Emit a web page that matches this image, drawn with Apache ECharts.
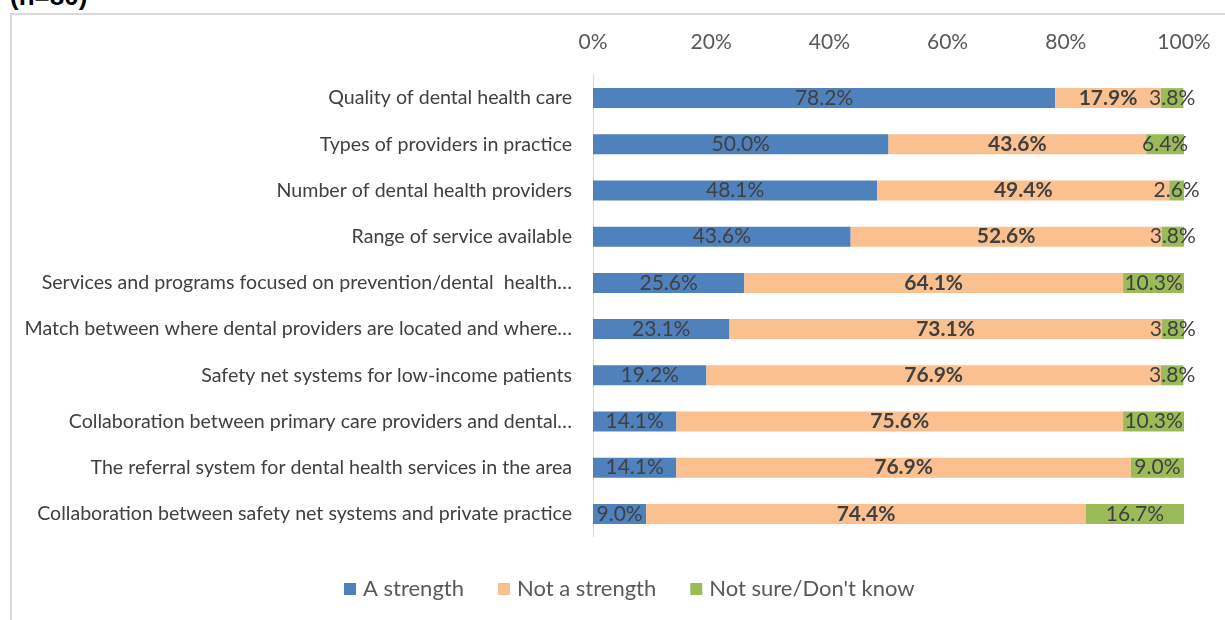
<!DOCTYPE html>
<html>
<head>
<meta charset="utf-8">
<script src="https://cdn.jsdelivr.net/npm/echarts@6/dist/echarts.min.js"></script>
<style>
  html, body { margin: 0; padding: 0; background: #fff; }
  #frame { position: absolute; left: 10px; top: 13px; width: 1300px; height: 700px;
           border-left: 2px solid #d9d9d9; border-top: 2px solid #d9d9d9; }
  #note { position: absolute; left: 10px; top: -19px; line-height: 26px;
          font: bold 26px "Liberation Sans", Arial, sans-serif; color: #000; white-space: nowrap; }
  #chart { position: absolute; left: 0; top: 0; width: 1225px; height: 620px; }
</style>
</head>
<body>
<div id="frame"></div>
<div id="note">(n=80)</div>
<div id="chart"></div>
<script>
const categories = [
  'Quality of dental health care',
  'Types of providers in practice',
  'Number of dental health providers',
  'Range of service available',
  'Services and programs focused on prevention/dental  health…',
  'Match between where dental providers are located and where…',
  'Safety net systems for low-income patients',
  'Collaboration between primary care providers and dental…',
  'The referral system for dental health services in the area',
  'Collaboration between safety net systems and private practice'
];
const strength    = [78.2, 50.0, 48.1, 43.6, 25.6, 23.1, 19.2, 14.1, 14.1, 9.0];
const notStrength = [17.9, 43.6, 49.4, 52.6, 64.1, 73.1, 76.9, 75.6, 76.9, 74.4];
const notSure     = [3.8, 6.4, 2.6, 3.8, 10.3, 3.8, 3.8, 10.3, 9.0, 16.7];
const tickLabels  = ['0%', '20%', '40%', '60%', '80%', '100%'];

const FONT = 'Lato, "Open Sans", sans-serif';
const labelFmt = p => p.value.toFixed(1) + '%';

function seriesOf(name, data, color, bold) {
  return {
    name, type: 'bar', stack: 'total', data, barWidth: 20,
    itemStyle: { color },
    label: {
      show: true, position: 'inside', formatter: labelFmt,
      color: '#404040', fontFamily: FONT, fontSize: 21,
      fontWeight: bold ? 'bold' : 'normal'
    }
  };
}

const chart = echarts.init(document.getElementById('chart'), null, { renderer: 'canvas' });
chart.setOption({
  animation: false,
  grid: { left: 593, right: 41, top: 75, bottom: 83, containLabel: false },
  xAxis: {
    type: 'value', position: 'top', min: 0, max: 100, interval: 20,
    axisLine: { show: false }, axisTick: { show: false }, splitLine: { show: false },
    axisLabel: {
      color: '#595959', fontFamily: FONT, fontSize: 21, margin: 22,
      formatter: v => tickLabels[Math.round(v / 20)]
    }
  },
  yAxis: {
    type: 'category', data: categories, inverse: true,
    axisLine: { show: true, lineStyle: { color: '#d9d9d9', width: 1 } },
    axisTick: { show: false },
    axisLabel: { color: '#404040', fontFamily: FONT, fontSize: 19.6, margin: 21 }
  },
  legend: {
    bottom: 15, left: 339, itemWidth: 12, itemHeight: 12, itemGap: 34, icon: 'rect',
    textStyle: { color: '#595959', fontFamily: FONT, fontSize: 22, padding: [0, 0, 0, 2] },
    data: ['A strength', 'Not a strength', "Not sure/Don't know"]
  },
  series: [
    seriesOf('A strength', strength, '#4f81bd', false),
    seriesOf('Not a strength', notStrength, '#fac090', true),
    seriesOf("Not sure/Don't know", notSure, '#9bbb59', false)
  ]
});
</script>
</body>
</html>
